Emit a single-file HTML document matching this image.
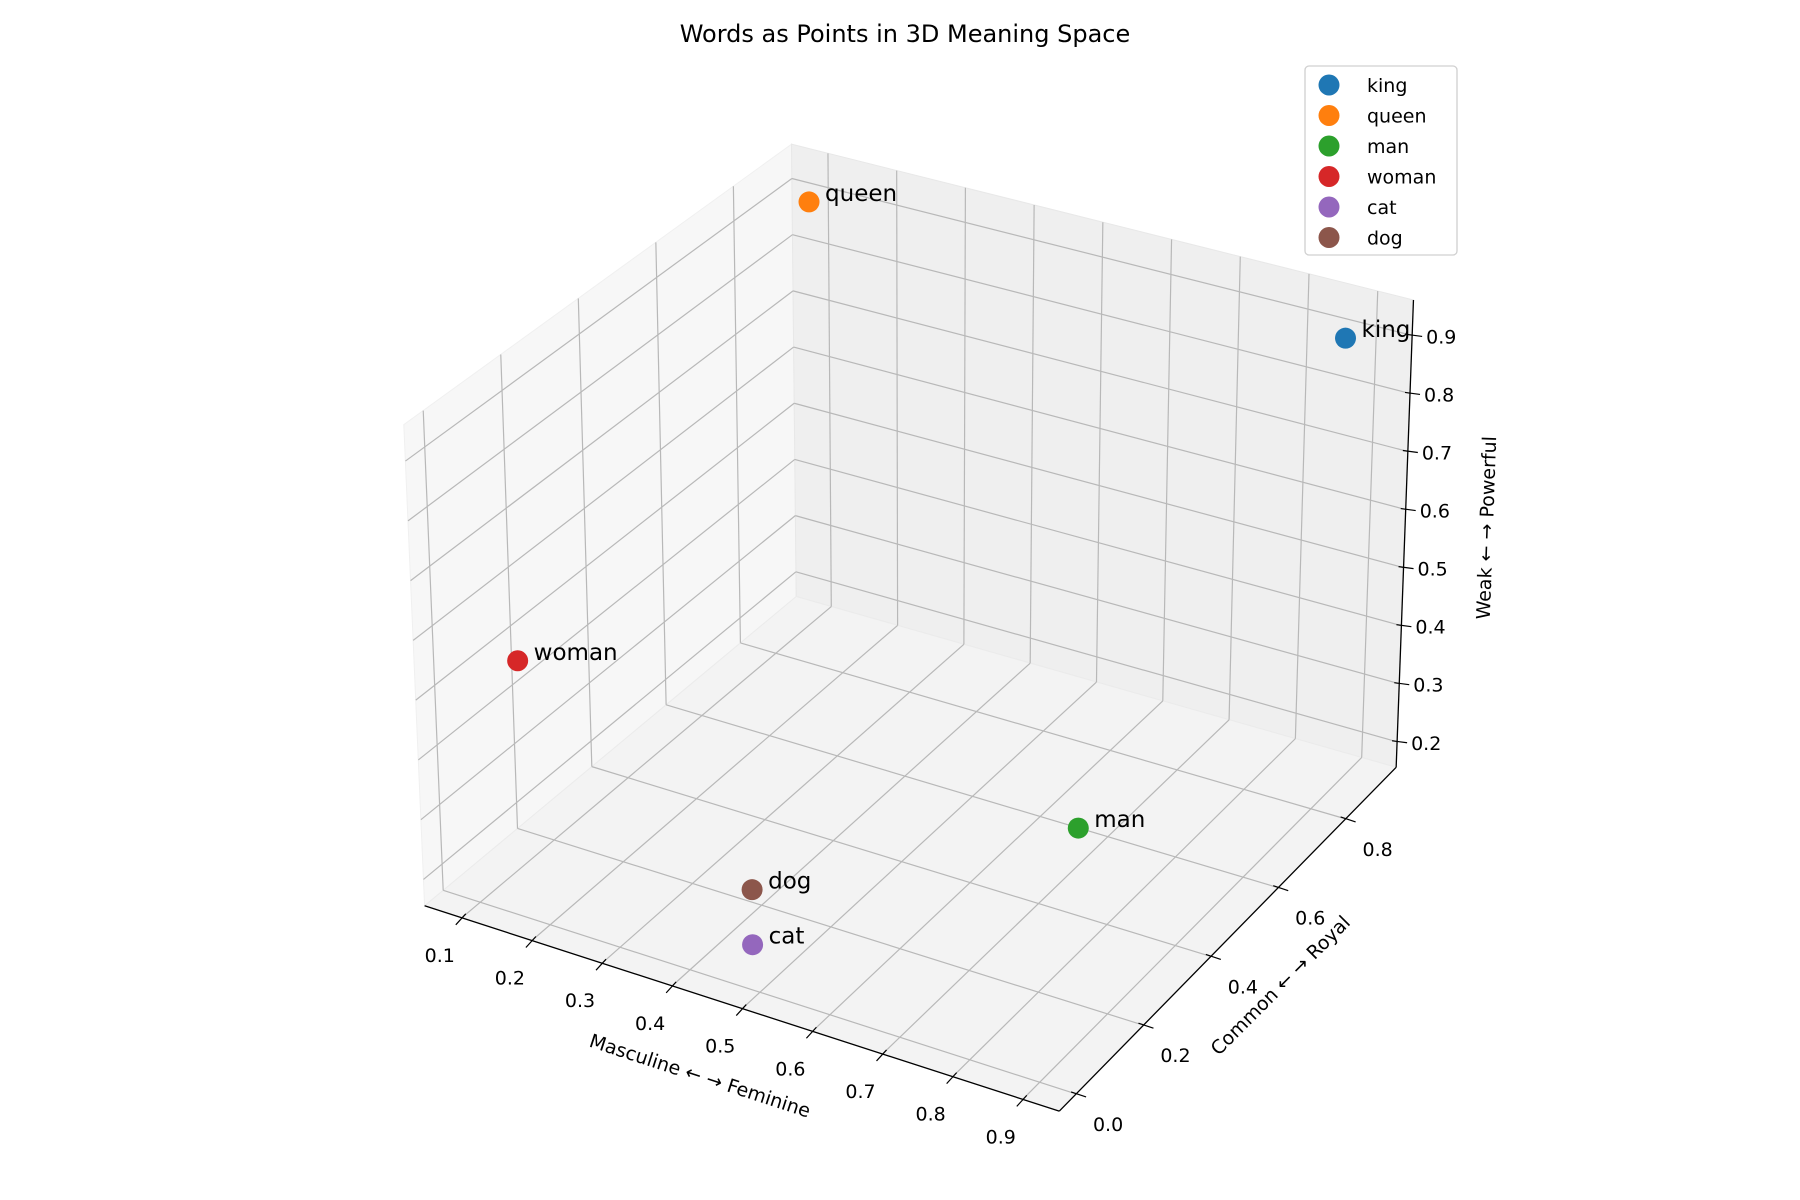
<!DOCTYPE html>
<html><head><meta charset="utf-8"><style>
html,body{margin:0;padding:0;background:#fff;}
svg{display:block;font-family:"DejaVu Sans","Liberation Sans",sans-serif;}
</style></head><body>
<svg id="chart" width="1800" height="1200" viewBox="0 0 1800 1200">
<text x="905" y="42" font-size="24" text-anchor="middle">Words as Points in 3D Meaning Space</text>
<g id="panes"></g><g id="grid"></g><g id="axes"></g><g id="points"></g>
<g id="legend"></g>
</svg>
<script>
const words = ["king","queen","man","woman","cat","dog"];
const xVals = [0.88, 0.1, 0.9, 0.1, 0.49, 0.49];
const yVals = [0.9, 0.9, 0.1, 0.12, 0.0, 0.0];
const zVals = [0.9, 0.9, 0.51, 0.5, 0.23, 0.32];
const colors = ["#1f77b4","#ff7f0e","#2ca02c","#d62728","#9467bd","#8c564b"];
const xTicks = [0.1,0.2,0.3,0.4,0.5,0.6,0.7,0.8,0.9];
const yTicks = [0.0,0.2,0.4,0.6,0.8];
const zTicks = [0.2,0.3,0.4,0.5,0.6,0.7,0.8,0.9];
const xLim=[0.047,0.952], yLim=[-0.05,0.95], zLim=[0.156,0.961];

const S=1800/1560;
const C={
 "000":[368,785],"100":[918,963],"110":[1210,665],"010":[690,517],
 "001":[350,368],"101":[928,523],"111":[1225,260],"011":[686,125]};
for(const k in C){C[k]=[C[k][0]*S,C[k][1]*S];}
function L(a,b,t){return [a[0]+(b[0]-a[0])*t,a[1]+(b[1]-a[1])*t];}
function projN(u,v,w){
  const b0=L(L(C["000"],C["100"],u),L(C["010"],C["110"],u),v);
  const b1=L(L(C["001"],C["101"],u),L(C["011"],C["111"],u),v);
  return L(b0,b1,w);
}
const nx=x=>(x-xLim[0])/(xLim[1]-xLim[0]);
const ny=y=>(y-yLim[0])/(yLim[1]-yLim[0]);
const nz=z=>(z-zLim[0])/(zLim[1]-zLim[0]);
function proj(x,y,z){return projN(nx(x),ny(y),nz(z));}
const NS="http://www.w3.org/2000/svg";
function mk(tag,attrs,parent){const e=document.createElementNS(NS,tag);for(const k in attrs)e.setAttribute(k,attrs[k]);parent.appendChild(e);return e;}
function poly(pts){return pts.map(p=>p[0].toFixed(1)+","+p[1].toFixed(1)).join(" ");}
const gP=document.getElementById("panes"),gG=document.getElementById("grid"),gA=document.getElementById("axes"),gPt=document.getElementById("points"),gL=document.getElementById("legend");

let p=mk("polygon",{points:poly([projN(0,0,0),projN(0,1,0),projN(0,1,1),projN(0,0,1)]),fill:"#f7f7f7",stroke:"#f0f0f0"},gP);


p=mk("polygon",{points:poly([projN(0,1,0),projN(1,1,0),projN(1,1,1),projN(0,1,1)]),fill:"#efefef",stroke:"#e8e8e8"},gP);


p=mk("polygon",{points:poly([projN(0,0,0),projN(1,0,0),projN(1,1,0),projN(0,1,0)]),fill:"#f3f3f3",stroke:"#ebebeb"},gP);



function line(a,b,par,stroke,w,name){const e=mk("line",{x1:a[0],y1:a[1],x2:b[0],y2:b[1],stroke:stroke,"stroke-width":w},par);


return e;}
const GC="#b8b8b8";
xTicks.forEach(x=>{const u=nx(x);
  line(projN(u,0,0),projN(u,1,0),gG,GC,1.2,'grid-x-floor');
  line(projN(u,1,0),projN(u,1,1),gG,GC,1.2,'grid-x-back');});
yTicks.forEach(y=>{const v=ny(y);
  line(projN(0,v,0),projN(1,v,0),gG,GC,1.2,'grid-y-floor');
  line(projN(0,v,0),projN(0,v,1),gG,GC,1.2,'grid-y-side');});
zTicks.forEach(z=>{const w=nz(z);
  line(projN(0,0,w),projN(0,1,w),gG,GC,1.2,'grid-z-side');
  line(projN(0,1,w),projN(1,1,w),gG,GC,1.2,'grid-z-back');});

line(projN(0,0,0),projN(1,0,0),gA,"#000",1.3,'x-axis-line');
line(projN(1,0,0),projN(1,1,0),gA,"#000",1.3,'y-axis-line');
line(projN(1,1,0),projN(1,1,1),gA,"#000",1.3,'z-axis-line');
function txt(x,y,s,size,attrs,name){const e=mk("text",Object.assign({x:x,y:y,"font-size":size},attrs||{}),gA);e.textContent=s;


return e;}
xTicks.forEach(x=>{const a=proj(x,yLim[0],zLim[0]);
  line([a[0]+4,a[1]-4],[a[0]-6,a[1]+7],gA,"#000",1.2,'x-tick');
  txt(a[0]-22,a[1]+44,x.toFixed(1),19,{"text-anchor":"middle"},'x-tick-label');});
yTicks.forEach(y=>{const a=proj(xLim[1],y,zLim[0]);
  line([a[0]-5,a[1]-2],[a[0]+10,a[1]+3],gA,"#000",1.2,'y-tick');
  txt(a[0]+32,a[1]+37,y.toFixed(1),19,{"text-anchor":"middle"},'y-tick-label');});
zTicks.forEach(z=>{const a=proj(xLim[1],yLim[1],z);
  line([a[0]-5,a[1]-1],[a[0]+10,a[1]+1],gA,"#000",1.2,'z-tick');
  txt(a[0]+14,a[1]+8,z.toFixed(1),19,{"text-anchor":"start"},'z-tick-label');});
txt(0,0,"Masculine ← → Feminine",19,{"text-anchor":"middle",transform:"translate(698,1082) rotate(18)"},'x-axis-title');
txt(0,0,"Common ← → Royal",19,{"text-anchor":"middle",transform:"translate(1285,990) rotate(-45)"},'y-axis-title');
txt(0,0,"Weak ← → Powerful",19,{"text-anchor":"middle",transform:"translate(1493,528) rotate(-88)"},'z-axis-title');

words.forEach((w,i)=>{const a=proj(xVals[i],yVals[i],zVals[i]);
  const c=mk("circle",{cx:a[0],cy:a[1],r:10.5,fill:colors[i]},gPt);
  
  
  const t=mk("text",{x:a[0]+16,y:a[1]-1,"font-size":23},gPt);t.textContent=w;
  
  });

const lb=mk("rect",{x:1305,y:66,width:152,height:189,rx:4,fill:"#fff","fill-opacity":0.8,stroke:"#d0d0d0","stroke-width":1.3},gL);


words.forEach((w,i)=>{const y=85+i*30.5;
  const c=mk("circle",{cx:1329,cy:y,r:10.5,fill:colors[i]},gL);
  
  
  const t=mk("text",{x:1367,y:y+7,"font-size":19},gL);t.textContent=w;
  
  });
</script>
</body></html>
